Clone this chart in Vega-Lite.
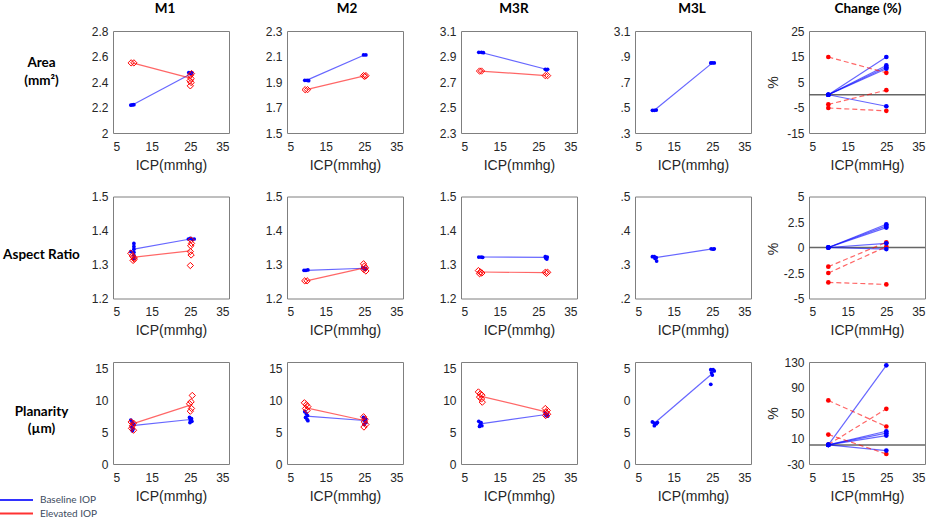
{
"$schema":"https://vega.github.io/schema/vega-lite/v6.json",
"autosize":{"type":"pad"},
"padding":{"left":2,"top":1,"right":2,"bottom":2},
"background":"white",
"data":{"values":[
{"p":"A1","g":"Baseline IOP","k":"p","x":9.6,"v":2.219},{"p":"A1","g":"Baseline IOP","k":"p","x":10.0,"v":2.22},{"p":"A1","g":"Baseline IOP","k":"p","x":10.4,"v":2.222},
{"p":"A1","g":"Baseline IOP","k":"p","x":24.6,"v":2.474},{"p":"A1","g":"Baseline IOP","k":"p","x":25.0,"v":2.47},{"p":"A1","g":"Baseline IOP","k":"p","x":25.4,"v":2.474},{"p":"A1","g":"Baseline IOP","k":"p","x":25.2,"v":2.465},
{"p":"A1","g":"Baseline IOP","k":"m","x":10,"v":2.22},{"p":"A1","g":"Baseline IOP","k":"m","x":25.3,"v":2.466},
{"p":"A1","g":"Elevated IOP","k":"p","x":9.7,"v":2.55},{"p":"A1","g":"Elevated IOP","k":"p","x":10.4,"v":2.55},
{"p":"A1","g":"Elevated IOP","k":"p","x":25.3,"v":2.466},{"p":"A1","g":"Elevated IOP","k":"p","x":25.0,"v":2.452},{"p":"A1","g":"Elevated IOP","k":"p","x":25.2,"v":2.427},{"p":"A1","g":"Elevated IOP","k":"p","x":24.9,"v":2.41},{"p":"A1","g":"Elevated IOP","k":"p","x":25.2,"v":2.396},{"p":"A1","g":"Elevated IOP","k":"p","x":25.0,"v":2.37},
{"p":"A1","g":"Elevated IOP","k":"m","x":10,"v":2.55},{"p":"A1","g":"Elevated IOP","k":"m","x":25,"v":2.43},

{"p":"A2","g":"Baseline IOP","k":"p","x":9.6,"v":1.913},{"p":"A2","g":"Baseline IOP","k":"p","x":10.2,"v":1.913},{"p":"A2","g":"Baseline IOP","k":"p","x":10.6,"v":1.91},
{"p":"A2","g":"Baseline IOP","k":"p","x":24.8,"v":2.112},{"p":"A2","g":"Baseline IOP","k":"p","x":25.4,"v":2.112},
{"p":"A2","g":"Baseline IOP","k":"m","x":10,"v":1.913},{"p":"A2","g":"Baseline IOP","k":"m","x":25,"v":2.112},
{"p":"A2","g":"Elevated IOP","k":"p","x":9.7,"v":1.84},{"p":"A2","g":"Elevated IOP","k":"p","x":10.3,"v":1.84},
{"p":"A2","g":"Elevated IOP","k":"p","x":24.8,"v":1.95},{"p":"A2","g":"Elevated IOP","k":"p","x":25.4,"v":1.95},{"p":"A2","g":"Elevated IOP","k":"p","x":25.1,"v":1.944},
{"p":"A2","g":"Elevated IOP","k":"m","x":10,"v":1.84},{"p":"A2","g":"Elevated IOP","k":"m","x":25,"v":1.948},

{"p":"A3","g":"Baseline IOP","k":"p","x":9.6,"v":2.933},{"p":"A3","g":"Baseline IOP","k":"p","x":10.3,"v":2.933},{"p":"A3","g":"Baseline IOP","k":"p","x":10.8,"v":2.93},
{"p":"A3","g":"Baseline IOP","k":"p","x":26.8,"v":2.8},{"p":"A3","g":"Baseline IOP","k":"p","x":27.4,"v":2.8},{"p":"A3","g":"Baseline IOP","k":"p","x":27.1,"v":2.795},
{"p":"A3","g":"Baseline IOP","k":"m","x":10,"v":2.933},{"p":"A3","g":"Baseline IOP","k":"m","x":27,"v":2.8},
{"p":"A3","g":"Elevated IOP","k":"p","x":9.8,"v":2.786},{"p":"A3","g":"Elevated IOP","k":"p","x":10.3,"v":2.786},
{"p":"A3","g":"Elevated IOP","k":"p","x":26.8,"v":2.75},{"p":"A3","g":"Elevated IOP","k":"p","x":27.4,"v":2.75},
{"p":"A3","g":"Elevated IOP","k":"m","x":10,"v":2.786},{"p":"A3","g":"Elevated IOP","k":"m","x":27,"v":2.75},

{"p":"A4","g":"Baseline IOP","k":"p","x":9.5,"v":2.478},{"p":"A4","g":"Baseline IOP","k":"p","x":10.0,"v":2.478},{"p":"A4","g":"Baseline IOP","k":"p","x":10.5,"v":2.48},
{"p":"A4","g":"Baseline IOP","k":"p","x":24.6,"v":2.85},{"p":"A4","g":"Baseline IOP","k":"p","x":25.0,"v":2.85},{"p":"A4","g":"Baseline IOP","k":"p","x":25.5,"v":2.85},
{"p":"A4","g":"Baseline IOP","k":"m","x":10,"v":2.478},{"p":"A4","g":"Baseline IOP","k":"m","x":25,"v":2.85},

{"p":"AC","k":"z","x":5,"v":0},{"p":"AC","k":"z","x":35,"v":0},
{"p":"AC","k":"c","g":"Baseline IOP","id":"b1","x":10,"v":0},{"p":"AC","k":"c","g":"Baseline IOP","id":"b1","x":25,"v":14.8},
{"p":"AC","k":"c","g":"Baseline IOP","id":"b2","x":10,"v":0},{"p":"AC","k":"c","g":"Baseline IOP","id":"b2","x":25,"v":11.5},
{"p":"AC","k":"c","g":"Baseline IOP","id":"b3","x":10,"v":0},{"p":"AC","k":"c","g":"Baseline IOP","id":"b3","x":25,"v":10.8},
{"p":"AC","k":"c","g":"Baseline IOP","id":"b4","x":10,"v":0},{"p":"AC","k":"c","g":"Baseline IOP","id":"b4","x":25,"v":10.2},
{"p":"AC","k":"c","g":"Baseline IOP","id":"b5","x":10,"v":0},{"p":"AC","k":"c","g":"Baseline IOP","id":"b5","x":25,"v":-4.5},
{"p":"AC","k":"c","g":"Elevated IOP","id":"e1","x":10,"v":14.8},{"p":"AC","k":"c","g":"Elevated IOP","id":"e1","x":25,"v":8.6},
{"p":"AC","k":"c","g":"Elevated IOP","id":"e2","x":10,"v":-3.8},{"p":"AC","k":"c","g":"Elevated IOP","id":"e2","x":25,"v":1.8},
{"p":"AC","k":"c","g":"Elevated IOP","id":"e3","x":10,"v":-5.2},{"p":"AC","k":"c","g":"Elevated IOP","id":"e3","x":25,"v":-6.3},

{"p":"R1","g":"Baseline IOP","k":"p","x":9.6,"v":1.338},{"p":"R1","g":"Baseline IOP","k":"p","x":10.4,"v":1.362},{"p":"R1","g":"Baseline IOP","k":"p","x":10.4,"v":1.353},{"p":"R1","g":"Baseline IOP","k":"p","x":10.4,"v":1.345},{"p":"R1","g":"Baseline IOP","k":"p","x":10.4,"v":1.336},{"p":"R1","g":"Baseline IOP","k":"p","x":10.4,"v":1.327},{"p":"R1","g":"Baseline IOP","k":"p","x":10.4,"v":1.318},
{"p":"R1","g":"Baseline IOP","k":"p","x":24.5,"v":1.375},{"p":"R1","g":"Baseline IOP","k":"p","x":25.0,"v":1.377},{"p":"R1","g":"Baseline IOP","k":"p","x":25.5,"v":1.374},{"p":"R1","g":"Baseline IOP","k":"p","x":26.0,"v":1.375},
{"p":"R1","g":"Baseline IOP","k":"m","x":10.4,"v":1.345},{"p":"R1","g":"Baseline IOP","k":"m","x":25,"v":1.375},
{"p":"R1","g":"Elevated IOP","k":"p","x":9.6,"v":1.333},{"p":"R1","g":"Elevated IOP","k":"p","x":10.0,"v":1.325},{"p":"R1","g":"Elevated IOP","k":"p","x":10.4,"v":1.32},{"p":"R1","g":"Elevated IOP","k":"p","x":10.2,"v":1.312},{"p":"R1","g":"Elevated IOP","k":"p","x":10.5,"v":1.316},
{"p":"R1","g":"Elevated IOP","k":"p","x":25.2,"v":1.372},{"p":"R1","g":"Elevated IOP","k":"p","x":25.3,"v":1.362},{"p":"R1","g":"Elevated IOP","k":"p","x":25.1,"v":1.355},{"p":"R1","g":"Elevated IOP","k":"p","x":25.0,"v":1.338},{"p":"R1","g":"Elevated IOP","k":"p","x":25.2,"v":1.328},{"p":"R1","g":"Elevated IOP","k":"p","x":25.0,"v":1.297},
{"p":"R1","g":"Elevated IOP","k":"m","x":10,"v":1.321},{"p":"R1","g":"Elevated IOP","k":"m","x":25,"v":1.34},

{"p":"R2","g":"Baseline IOP","k":"p","x":9.4,"v":1.283},{"p":"R2","g":"Baseline IOP","k":"p","x":9.9,"v":1.283},{"p":"R2","g":"Baseline IOP","k":"p","x":10.4,"v":1.284},
{"p":"R2","g":"Baseline IOP","k":"p","x":24.6,"v":1.29},{"p":"R2","g":"Baseline IOP","k":"p","x":25.0,"v":1.289},{"p":"R2","g":"Baseline IOP","k":"p","x":25.4,"v":1.288},{"p":"R2","g":"Baseline IOP","k":"p","x":25.2,"v":1.286},
{"p":"R2","g":"Baseline IOP","k":"m","x":10,"v":1.283},{"p":"R2","g":"Baseline IOP","k":"m","x":25,"v":1.289},
{"p":"R2","g":"Elevated IOP","k":"p","x":9.6,"v":1.252},{"p":"R2","g":"Elevated IOP","k":"p","x":10.2,"v":1.252},
{"p":"R2","g":"Elevated IOP","k":"p","x":24.8,"v":1.302},{"p":"R2","g":"Elevated IOP","k":"p","x":25.0,"v":1.295},{"p":"R2","g":"Elevated IOP","k":"p","x":25.3,"v":1.29},{"p":"R2","g":"Elevated IOP","k":"p","x":24.9,"v":1.285},{"p":"R2","g":"Elevated IOP","k":"p","x":25.4,"v":1.281},
{"p":"R2","g":"Elevated IOP","k":"m","x":10,"v":1.252},{"p":"R2","g":"Elevated IOP","k":"m","x":25,"v":1.29},

{"p":"R3","g":"Baseline IOP","k":"p","x":9.6,"v":1.322},{"p":"R3","g":"Baseline IOP","k":"p","x":10.2,"v":1.322},{"p":"R3","g":"Baseline IOP","k":"p","x":10.6,"v":1.321},
{"p":"R3","g":"Baseline IOP","k":"p","x":26.8,"v":1.323},{"p":"R3","g":"Baseline IOP","k":"p","x":27.3,"v":1.322},{"p":"R3","g":"Baseline IOP","k":"p","x":27.2,"v":1.316},{"p":"R3","g":"Baseline IOP","k":"p","x":26.9,"v":1.319},
{"p":"R3","g":"Baseline IOP","k":"m","x":10,"v":1.322},{"p":"R3","g":"Baseline IOP","k":"m","x":27,"v":1.321},
{"p":"R3","g":"Elevated IOP","k":"p","x":9.5,"v":1.282},{"p":"R3","g":"Elevated IOP","k":"p","x":10.0,"v":1.278},{"p":"R3","g":"Elevated IOP","k":"p","x":10.4,"v":1.275},{"p":"R3","g":"Elevated IOP","k":"p","x":9.8,"v":1.273},
{"p":"R3","g":"Elevated IOP","k":"p","x":26.8,"v":1.277},{"p":"R3","g":"Elevated IOP","k":"p","x":27.4,"v":1.277},{"p":"R3","g":"Elevated IOP","k":"p","x":27.1,"v":1.274},
{"p":"R3","g":"Elevated IOP","k":"m","x":10,"v":1.278},{"p":"R3","g":"Elevated IOP","k":"m","x":27,"v":1.276},

{"p":"R4","g":"Baseline IOP","k":"p","x":9.5,"v":1.323},{"p":"R4","g":"Baseline IOP","k":"p","x":10.0,"v":1.323},{"p":"R4","g":"Baseline IOP","k":"p","x":10.5,"v":1.32},{"p":"R4","g":"Baseline IOP","k":"p","x":10.6,"v":1.31},{"p":"R4","g":"Baseline IOP","k":"p","x":10.2,"v":1.318},
{"p":"R4","g":"Baseline IOP","k":"p","x":24.7,"v":1.346},{"p":"R4","g":"Baseline IOP","k":"p","x":25.2,"v":1.345},{"p":"R4","g":"Baseline IOP","k":"p","x":25.5,"v":1.346},
{"p":"R4","g":"Baseline IOP","k":"m","x":10.3,"v":1.32},{"p":"R4","g":"Baseline IOP","k":"m","x":25,"v":1.346},

{"p":"RC","k":"z","x":5,"v":0},{"p":"RC","k":"z","x":35,"v":0},
{"p":"RC","k":"c","g":"Baseline IOP","id":"b1","x":10,"v":0},{"p":"RC","k":"c","g":"Baseline IOP","id":"b1","x":25,"v":2.28},
{"p":"RC","k":"c","g":"Baseline IOP","id":"b2","x":10,"v":0},{"p":"RC","k":"c","g":"Baseline IOP","id":"b2","x":25,"v":2.12},
{"p":"RC","k":"c","g":"Baseline IOP","id":"b3","x":10,"v":0},{"p":"RC","k":"c","g":"Baseline IOP","id":"b3","x":25,"v":1.95},
{"p":"RC","k":"c","g":"Baseline IOP","id":"b4","x":10,"v":0},{"p":"RC","k":"c","g":"Baseline IOP","id":"b4","x":25,"v":0.41},
{"p":"RC","k":"c","g":"Baseline IOP","id":"b5","x":10,"v":0},{"p":"RC","k":"c","g":"Baseline IOP","id":"b5","x":25,"v":-0.15},
{"p":"RC","k":"c","g":"Elevated IOP","id":"e1","x":10,"v":-1.88},{"p":"RC","k":"c","g":"Elevated IOP","id":"e1","x":25,"v":0.51},
{"p":"RC","k":"c","g":"Elevated IOP","id":"e2","x":10,"v":-2.5},{"p":"RC","k":"c","g":"Elevated IOP","id":"e2","x":25,"v":0.08},
{"p":"RC","k":"c","g":"Elevated IOP","id":"e3","x":10,"v":-3.42},{"p":"RC","k":"c","g":"Elevated IOP","id":"e3","x":25,"v":-3.62},

{"p":"P1","g":"Baseline IOP","k":"p","x":9.6,"v":6.9},{"p":"P1","g":"Baseline IOP","k":"p","x":10.0,"v":6.5},{"p":"P1","g":"Baseline IOP","k":"p","x":10.4,"v":6.2},{"p":"P1","g":"Baseline IOP","k":"p","x":9.8,"v":5.8},{"p":"P1","g":"Baseline IOP","k":"p","x":10.2,"v":5.5},{"p":"P1","g":"Baseline IOP","k":"p","x":10.0,"v":5.2},
{"p":"P1","g":"Baseline IOP","k":"p","x":24.8,"v":7.3},{"p":"P1","g":"Baseline IOP","k":"p","x":25.3,"v":7.1},{"p":"P1","g":"Baseline IOP","k":"p","x":25.0,"v":6.9},{"p":"P1","g":"Baseline IOP","k":"p","x":25.4,"v":6.7},{"p":"P1","g":"Baseline IOP","k":"p","x":24.9,"v":6.5},
{"p":"P1","g":"Baseline IOP","k":"m","x":10,"v":6.03},{"p":"P1","g":"Baseline IOP","k":"m","x":25,"v":6.98},
{"p":"P1","g":"Elevated IOP","k":"p","x":9.7,"v":6.6},{"p":"P1","g":"Elevated IOP","k":"p","x":10.3,"v":6.4},{"p":"P1","g":"Elevated IOP","k":"p","x":10.0,"v":6.0},{"p":"P1","g":"Elevated IOP","k":"p","x":9.8,"v":5.6},{"p":"P1","g":"Elevated IOP","k":"p","x":10.3,"v":5.3},
{"p":"P1","g":"Elevated IOP","k":"p","x":25.5,"v":10.75},{"p":"P1","g":"Elevated IOP","k":"p","x":25.2,"v":9.76},{"p":"P1","g":"Elevated IOP","k":"p","x":24.8,"v":9.44},{"p":"P1","g":"Elevated IOP","k":"p","x":25.3,"v":8.71},{"p":"P1","g":"Elevated IOP","k":"p","x":25.0,"v":8.29},
{"p":"P1","g":"Elevated IOP","k":"m","x":10,"v":6.3},{"p":"P1","g":"Elevated IOP","k":"m","x":25,"v":9.23},

{"p":"P2","g":"Baseline IOP","k":"p","x":9.6,"v":8.2},{"p":"P2","g":"Baseline IOP","k":"p","x":10.0,"v":7.9},{"p":"P2","g":"Baseline IOP","k":"p","x":10.3,"v":7.6},{"p":"P2","g":"Baseline IOP","k":"p","x":9.8,"v":7.3},{"p":"P2","g":"Baseline IOP","k":"p","x":10.2,"v":7.0},{"p":"P2","g":"Baseline IOP","k":"p","x":10.4,"v":6.8},
{"p":"P2","g":"Baseline IOP","k":"p","x":24.8,"v":7.3},{"p":"P2","g":"Baseline IOP","k":"p","x":25.3,"v":7.0},{"p":"P2","g":"Baseline IOP","k":"p","x":25.0,"v":6.8},{"p":"P2","g":"Baseline IOP","k":"p","x":25.4,"v":6.5},{"p":"P2","g":"Baseline IOP","k":"p","x":24.9,"v":6.2},
{"p":"P2","g":"Baseline IOP","k":"m","x":10,"v":7.5},{"p":"P2","g":"Baseline IOP","k":"m","x":25,"v":6.82},
{"p":"P2","g":"Elevated IOP","k":"p","x":9.5,"v":9.6},{"p":"P2","g":"Elevated IOP","k":"p","x":10.0,"v":9.3},{"p":"P2","g":"Elevated IOP","k":"p","x":10.4,"v":9.0},{"p":"P2","g":"Elevated IOP","k":"p","x":9.8,"v":8.7},{"p":"P2","g":"Elevated IOP","k":"p","x":10.2,"v":8.4},
{"p":"P2","g":"Elevated IOP","k":"p","x":24.8,"v":7.4},{"p":"P2","g":"Elevated IOP","k":"p","x":25.2,"v":7.0},{"p":"P2","g":"Elevated IOP","k":"p","x":25.0,"v":6.6},{"p":"P2","g":"Elevated IOP","k":"p","x":25.4,"v":6.2},{"p":"P2","g":"Elevated IOP","k":"p","x":24.9,"v":5.8},
{"p":"P2","g":"Elevated IOP","k":"m","x":10,"v":8.81},{"p":"P2","g":"Elevated IOP","k":"m","x":25,"v":6.82},

{"p":"P3","g":"Baseline IOP","k":"p","x":9.6,"v":6.7},{"p":"P3","g":"Baseline IOP","k":"p","x":10.2,"v":6.5},{"p":"P3","g":"Baseline IOP","k":"p","x":10.0,"v":6.2},{"p":"P3","g":"Baseline IOP","k":"p","x":10.4,"v":6.0},{"p":"P3","g":"Baseline IOP","k":"p","x":9.8,"v":5.9},
{"p":"P3","g":"Baseline IOP","k":"p","x":26.8,"v":8.0},{"p":"P3","g":"Baseline IOP","k":"p","x":27.3,"v":7.8},{"p":"P3","g":"Baseline IOP","k":"p","x":27.0,"v":7.6},{"p":"P3","g":"Baseline IOP","k":"p","x":27.4,"v":7.5},
{"p":"P3","g":"Baseline IOP","k":"m","x":10,"v":6.3},{"p":"P3","g":"Baseline IOP","k":"m","x":27,"v":7.76},
{"p":"P3","g":"Elevated IOP","k":"p","x":9.5,"v":11.3},{"p":"P3","g":"Elevated IOP","k":"p","x":10.0,"v":11.0},{"p":"P3","g":"Elevated IOP","k":"p","x":10.4,"v":10.8},{"p":"P3","g":"Elevated IOP","k":"p","x":9.8,"v":10.5},{"p":"P3","g":"Elevated IOP","k":"p","x":10.3,"v":10.2},{"p":"P3","g":"Elevated IOP","k":"p","x":10.5,"v":9.7},
{"p":"P3","g":"Elevated IOP","k":"p","x":26.8,"v":8.7},{"p":"P3","g":"Elevated IOP","k":"p","x":27.3,"v":8.4},{"p":"P3","g":"Elevated IOP","k":"p","x":27.0,"v":8.1},{"p":"P3","g":"Elevated IOP","k":"p","x":27.4,"v":7.8},{"p":"P3","g":"Elevated IOP","k":"p","x":26.9,"v":7.6},
{"p":"P3","g":"Elevated IOP","k":"m","x":10,"v":10.65},{"p":"P3","g":"Elevated IOP","k":"m","x":27,"v":8.18},

{"p":"P4","g":"Baseline IOP","k":"p","x":9.5,"v":6.6},{"p":"P4","g":"Baseline IOP","k":"p","x":10.0,"v":6.4},{"p":"P4","g":"Baseline IOP","k":"p","x":10.5,"v":6.3},{"p":"P4","g":"Baseline IOP","k":"p","x":10.0,"v":6.0},{"p":"P4","g":"Baseline IOP","k":"p","x":10.8,"v":6.5},
{"p":"P4","g":"Baseline IOP","k":"p","x":24.6,"v":14.8},{"p":"P4","g":"Baseline IOP","k":"p","x":25.2,"v":14.8},{"p":"P4","g":"Baseline IOP","k":"p","x":25.5,"v":14.6},{"p":"P4","g":"Baseline IOP","k":"p","x":24.8,"v":14.3},{"p":"P4","g":"Baseline IOP","k":"p","x":25.0,"v":13.95},{"p":"P4","g":"Baseline IOP","k":"p","x":24.6,"v":12.5},
{"p":"P4","g":"Baseline IOP","k":"m","x":10,"v":6.4},{"p":"P4","g":"Baseline IOP","k":"m","x":25,"v":14.2},

{"p":"PC","k":"z","x":5,"v":0},{"p":"PC","k":"z","x":35,"v":0},
{"p":"PC","k":"c","g":"Baseline IOP","id":"b1","x":10,"v":0},{"p":"PC","k":"c","g":"Baseline IOP","id":"b1","x":25,"v":124.8},
{"p":"PC","k":"c","g":"Baseline IOP","id":"b2","x":10,"v":0},{"p":"PC","k":"c","g":"Baseline IOP","id":"b2","x":25,"v":21.4},
{"p":"PC","k":"c","g":"Baseline IOP","id":"b3","x":10,"v":0},{"p":"PC","k":"c","g":"Baseline IOP","id":"b3","x":25,"v":18.3},
{"p":"PC","k":"c","g":"Baseline IOP","id":"b4","x":10,"v":0},{"p":"PC","k":"c","g":"Baseline IOP","id":"b4","x":25,"v":14.6},
{"p":"PC","k":"c","g":"Baseline IOP","id":"b5","x":10,"v":0},{"p":"PC","k":"c","g":"Baseline IOP","id":"b5","x":25,"v":-9.0},
{"p":"PC","k":"c","g":"Elevated IOP","id":"e1","x":10,"v":69.7},{"p":"PC","k":"c","g":"Elevated IOP","id":"e1","x":25,"v":28.8},
{"p":"PC","k":"c","g":"Elevated IOP","id":"e2","x":10,"v":16.2},{"p":"PC","k":"c","g":"Elevated IOP","id":"e2","x":25,"v":-14.3},
{"p":"PC","k":"c","g":"Elevated IOP","id":"e3","x":10,"v":0.5},{"p":"PC","k":"c","g":"Elevated IOP","id":"e3","x":25,"v":56.5}
]},
"columns":5,
"bounds":"flush",
"align":"all",
"spacing":{"row":63.5,"column":58},
"concat":[
{"width":116,"height":102,"title":{"text":"M1","dx":-6},"transform":[{"filter":"datum.p=='A1'"}],
 "encoding":{"x":{"field":"x","type":"quantitative","scale":{"domain":[5,35],"nice":false},"axis":{"values":[5,15,25,35],"title":"ICP(mmhg)"}},
  "y":{"field":"v","type":"quantitative","scale":{"domain":[2,2.8],"nice":false,"zero":false},"axis":{"values":[2,2.2,2.4,2.6,2.8],"labelExpr":"''+datum.value","title":["Area","(mm²)"],"titleAngle":0,"titleAlign":"center","titleBaseline":"alphabetic","titleX":-72,"titleY":35.7,"titleFont":"Lato","titleFontWeight":"bold","titleFontSize":13.5,"titleLineHeight":17.5,"titleColor":"#000000"}}},
 "layer":[
  {"transform":[{"filter":"datum.k=='m'"}],"mark":{"type":"line","strokeWidth":1.2,"opacity":0.6},"encoding":{"color":{"field":"g","type":"nominal","scale":{"domain":["Baseline IOP","Elevated IOP"],"range":["#0000ff","#ff0000"]},"legend":{"title":null,"orient":"none","legendX":-103,"legendY":462.5,"symbolType":"M-3,0H3","symbolSize":121,"symbolStrokeWidth":2,"symbolOpacity":0.8,"labelOffset":17,"labelFont":"Lato","labelFontSize":10,"labelColor":"#3b4a5e","rowPadding":1.5,"padding":0}}}},
  {"transform":[{"filter":"datum.k=='p' && datum.g=='Baseline IOP'"}],"mark":{"type":"point","shape":"circle","filled":true,"color":"#0000ff","size":14,"opacity":1}},
  {"transform":[{"filter":"datum.k=='p' && datum.g=='Elevated IOP'"}],"mark":{"type":"point","shape":"diamond","filled":false,"color":"#ff0000","size":40,"strokeWidth":1,"opacity":1}}
 ]},
{"width":116,"height":102,"title":{"text":"M2","dx":2},"transform":[{"filter":"datum.p=='A2'"}],
 "encoding":{"x":{"field":"x","type":"quantitative","scale":{"domain":[5,35],"nice":false},"axis":{"values":[5,15,25,35],"title":"ICP(mmhg)"}},
  "y":{"field":"v","type":"quantitative","scale":{"domain":[1.5,2.3],"nice":false,"zero":false},"axis":{"values":[1.5,1.7,1.9,2.1,2.3],"labelExpr":"''+datum.value","title":null}}},
 "layer":[
  {"transform":[{"filter":"datum.k=='m'"}],"mark":{"type":"line","strokeWidth":1.2,"opacity":0.6},"encoding":{"color":{"field":"g","type":"nominal","legend":null}}},
  {"transform":[{"filter":"datum.k=='p' && datum.g=='Baseline IOP'"}],"mark":{"type":"point","shape":"circle","filled":true,"color":"#0000ff","size":14,"opacity":1}},
  {"transform":[{"filter":"datum.k=='p' && datum.g=='Elevated IOP'"}],"mark":{"type":"point","shape":"diamond","filled":false,"color":"#ff0000","size":40,"strokeWidth":1,"opacity":1}}
 ]},
{"width":116,"height":102,"title":{"text":"M3R","dx":-5},"transform":[{"filter":"datum.p=='A3'"}],
 "encoding":{"x":{"field":"x","type":"quantitative","scale":{"domain":[5,35],"nice":false},"axis":{"values":[5,15,25,35],"title":"ICP(mmhg)"}},
  "y":{"field":"v","type":"quantitative","scale":{"domain":[2.3,3.1],"nice":false,"zero":false},"axis":{"values":[2.3,2.5,2.7,2.9,3.1],"labelExpr":"''+datum.value","title":null}}},
 "layer":[
  {"transform":[{"filter":"datum.k=='m'"}],"mark":{"type":"line","strokeWidth":1.2,"opacity":0.6},"encoding":{"color":{"field":"g","type":"nominal","legend":null}}},
  {"transform":[{"filter":"datum.k=='p' && datum.g=='Baseline IOP'"}],"mark":{"type":"point","shape":"circle","filled":true,"color":"#0000ff","size":14,"opacity":1}},
  {"transform":[{"filter":"datum.k=='p' && datum.g=='Elevated IOP'"}],"mark":{"type":"point","shape":"diamond","filled":false,"color":"#ff0000","size":40,"strokeWidth":1,"opacity":1}}
 ]},
{"width":116,"height":102,"title":{"text":"M3L","dx":-1},"transform":[{"filter":"datum.p=='A4'"}],
 "encoding":{"x":{"field":"x","type":"quantitative","scale":{"domain":[5,35],"nice":false},"axis":{"values":[5,15,25,35],"title":"ICP(mmhg)"}},
  "y":{"field":"v","type":"quantitative","scale":{"domain":[2.3,3.1],"nice":false,"zero":false},"axis":{"values":[2.3,2.5,2.7,2.9,3.1],"labelExpr":"datum.value > 3 ? ''+datum.value : substring(''+datum.value, 1)","title":null}}},
 "layer":[
  {"transform":[{"filter":"datum.k=='m'"}],"mark":{"type":"line","strokeWidth":1.2,"opacity":0.6},"encoding":{"color":{"field":"g","type":"nominal","legend":null}}},
  {"transform":[{"filter":"datum.k=='p' && datum.g=='Baseline IOP'"}],"mark":{"type":"point","shape":"circle","filled":true,"color":"#0000ff","size":14,"opacity":1}}
 ]},
{"width":116,"height":102,"title":{"text":"Change (%)","dx":1},"transform":[{"filter":"datum.p=='AC'"}],
 "encoding":{"x":{"field":"x","type":"quantitative","scale":{"domain":[5,35],"nice":false},"axis":{"values":[5,15,25,35],"title":"ICP(mmHg)"}},
  "y":{"field":"v","type":"quantitative","scale":{"domain":[-15,25],"nice":false,"zero":false},"axis":{"values":[-15,-5,5,15,25],"labelExpr":"''+datum.value","title":"%","titleAngle":-90,"titleX":-36,"titleY":51,"titleAlign":"center","titleBaseline":"middle"}}},
 "layer":[
  {"transform":[{"filter":"datum.k=='z'"}],"mark":{"type":"line","color":"#666666","strokeWidth":1.5},"encoding":{}},
  {"transform":[{"filter":"datum.k=='c' && datum.g=='Baseline IOP'"}],"mark":{"type":"line","color":"#0000ff","strokeWidth":1.2,"opacity":0.6},"encoding":{"detail":{"field":"id","type":"nominal"}}},
  {"transform":[{"filter":"datum.k=='c' && datum.g=='Elevated IOP'"}],"mark":{"type":"line","color":"#ff0000","strokeWidth":1.2,"opacity":0.6,"strokeDash":[5,3]},"encoding":{"detail":{"field":"id","type":"nominal"}}},
  {"transform":[{"filter":"datum.k=='c' && datum.g=='Elevated IOP'"}],"mark":{"type":"point","shape":"circle","filled":true,"color":"#ff0000","size":22,"opacity":1}},
  {"transform":[{"filter":"datum.k=='c' && datum.g=='Baseline IOP'"}],"mark":{"type":"point","shape":"circle","filled":true,"color":"#0000ff","size":22,"opacity":1}}
 ]},

{"width":116,"height":102,"transform":[{"filter":"datum.p=='R1'"}],
 "encoding":{"x":{"field":"x","type":"quantitative","scale":{"domain":[5,35],"nice":false},"axis":{"values":[5,15,25,35],"title":"ICP(mmhg)"}},
  "y":{"field":"v","type":"quantitative","scale":{"domain":[1.2,1.5],"nice":false,"zero":false},"axis":{"values":[1.2,1.3,1.4,1.5],"labelExpr":"''+datum.value","title":"Aspect Ratio","titleAngle":0,"titleAlign":"center","titleBaseline":"alphabetic","titleX":-72,"titleY":62.3,"titleFont":"Lato","titleFontWeight":"bold","titleFontSize":13.5,"titleColor":"#000000"}}},
 "layer":[
  {"transform":[{"filter":"datum.k=='m'"}],"mark":{"type":"line","strokeWidth":1.2,"opacity":0.6},"encoding":{"color":{"field":"g","type":"nominal","legend":null}}},
  {"transform":[{"filter":"datum.k=='p' && datum.g=='Baseline IOP'"}],"mark":{"type":"point","shape":"circle","filled":true,"color":"#0000ff","size":14,"opacity":1}},
  {"transform":[{"filter":"datum.k=='p' && datum.g=='Elevated IOP'"}],"mark":{"type":"point","shape":"diamond","filled":false,"color":"#ff0000","size":40,"strokeWidth":1,"opacity":1}}
 ]},
{"width":116,"height":102,"transform":[{"filter":"datum.p=='R2'"}],
 "encoding":{"x":{"field":"x","type":"quantitative","scale":{"domain":[5,35],"nice":false},"axis":{"values":[5,15,25,35],"title":"ICP(mmhg)"}},
  "y":{"field":"v","type":"quantitative","scale":{"domain":[1.2,1.5],"nice":false,"zero":false},"axis":{"values":[1.2,1.3,1.4,1.5],"labelExpr":"''+datum.value","title":null}}},
 "layer":[
  {"transform":[{"filter":"datum.k=='m'"}],"mark":{"type":"line","strokeWidth":1.2,"opacity":0.6},"encoding":{"color":{"field":"g","type":"nominal","legend":null}}},
  {"transform":[{"filter":"datum.k=='p' && datum.g=='Baseline IOP'"}],"mark":{"type":"point","shape":"circle","filled":true,"color":"#0000ff","size":14,"opacity":1}},
  {"transform":[{"filter":"datum.k=='p' && datum.g=='Elevated IOP'"}],"mark":{"type":"point","shape":"diamond","filled":false,"color":"#ff0000","size":40,"strokeWidth":1,"opacity":1}}
 ]},
{"width":116,"height":102,"transform":[{"filter":"datum.p=='R3'"}],
 "encoding":{"x":{"field":"x","type":"quantitative","scale":{"domain":[5,35],"nice":false},"axis":{"values":[5,15,25,35],"title":"ICP(mmhg)"}},
  "y":{"field":"v","type":"quantitative","scale":{"domain":[1.2,1.5],"nice":false,"zero":false},"axis":{"values":[1.2,1.3,1.4,1.5],"labelExpr":"''+datum.value","title":null}}},
 "layer":[
  {"transform":[{"filter":"datum.k=='m'"}],"mark":{"type":"line","strokeWidth":1.2,"opacity":0.6},"encoding":{"color":{"field":"g","type":"nominal","legend":null}}},
  {"transform":[{"filter":"datum.k=='p' && datum.g=='Baseline IOP'"}],"mark":{"type":"point","shape":"circle","filled":true,"color":"#0000ff","size":14,"opacity":1}},
  {"transform":[{"filter":"datum.k=='p' && datum.g=='Elevated IOP'"}],"mark":{"type":"point","shape":"diamond","filled":false,"color":"#ff0000","size":40,"strokeWidth":1,"opacity":1}}
 ]},
{"width":116,"height":102,"transform":[{"filter":"datum.p=='R4'"}],
 "encoding":{"x":{"field":"x","type":"quantitative","scale":{"domain":[5,35],"nice":false},"axis":{"values":[5,15,25,35],"title":"ICP(mmhg)"}},
  "y":{"field":"v","type":"quantitative","scale":{"domain":[1.2,1.5],"nice":false,"zero":false},"axis":{"values":[1.2,1.3,1.4,1.5],"labelExpr":"substring(''+datum.value, 1)","title":null}}},
 "layer":[
  {"transform":[{"filter":"datum.k=='m'"}],"mark":{"type":"line","strokeWidth":1.2,"opacity":0.6},"encoding":{"color":{"field":"g","type":"nominal","legend":null}}},
  {"transform":[{"filter":"datum.k=='p' && datum.g=='Baseline IOP'"}],"mark":{"type":"point","shape":"circle","filled":true,"color":"#0000ff","size":14,"opacity":1}}
 ]},
{"width":116,"height":102,"transform":[{"filter":"datum.p=='RC'"}],
 "encoding":{"x":{"field":"x","type":"quantitative","scale":{"domain":[5,35],"nice":false},"axis":{"values":[5,15,25,35],"title":"ICP(mmHg)"}},
  "y":{"field":"v","type":"quantitative","scale":{"domain":[-5,5],"nice":false,"zero":false},"axis":{"values":[-5,-2.5,0,2.5,5],"labelExpr":"''+datum.value","title":"%","titleAngle":-90,"titleX":-36,"titleY":52,"titleAlign":"center","titleBaseline":"middle"}}},
 "layer":[
  {"transform":[{"filter":"datum.k=='z'"}],"mark":{"type":"line","color":"#666666","strokeWidth":1.5},"encoding":{}},
  {"transform":[{"filter":"datum.k=='c' && datum.g=='Baseline IOP'"}],"mark":{"type":"line","color":"#0000ff","strokeWidth":1.2,"opacity":0.6},"encoding":{"detail":{"field":"id","type":"nominal"}}},
  {"transform":[{"filter":"datum.k=='c' && datum.g=='Elevated IOP'"}],"mark":{"type":"line","color":"#ff0000","strokeWidth":1.2,"opacity":0.6,"strokeDash":[5,3]},"encoding":{"detail":{"field":"id","type":"nominal"}}},
  {"transform":[{"filter":"datum.k=='c' && datum.g=='Elevated IOP'"}],"mark":{"type":"point","shape":"circle","filled":true,"color":"#ff0000","size":22,"opacity":1}},
  {"transform":[{"filter":"datum.k=='c' && datum.g=='Baseline IOP'"}],"mark":{"type":"point","shape":"circle","filled":true,"color":"#0000ff","size":22,"opacity":1}}
 ]},

{"width":116,"height":102,"transform":[{"filter":"datum.p=='P1'"}],
 "encoding":{"x":{"field":"x","type":"quantitative","scale":{"domain":[5,35],"nice":false},"axis":{"values":[5,15,25,35],"title":"ICP(mmhg)"}},
  "y":{"field":"v","type":"quantitative","scale":{"domain":[0,16],"nice":false,"zero":false},"axis":{"values":[0,5,10,15],"labelExpr":"''+datum.value","title":["Planarity","(µm)"],"titleAngle":0,"titleAlign":"center","titleBaseline":"alphabetic","titleX":-72,"titleY":53.4,"titleFont":"Lato","titleFontWeight":"bold","titleFontSize":13.5,"titleLineHeight":17,"titleColor":"#000000"}}},
 "layer":[
  {"transform":[{"filter":"datum.k=='m'"}],"mark":{"type":"line","strokeWidth":1.2,"opacity":0.6},"encoding":{"color":{"field":"g","type":"nominal","legend":null}}},
  {"transform":[{"filter":"datum.k=='p' && datum.g=='Baseline IOP'"}],"mark":{"type":"point","shape":"circle","filled":true,"color":"#0000ff","size":14,"opacity":1}},
  {"transform":[{"filter":"datum.k=='p' && datum.g=='Elevated IOP'"}],"mark":{"type":"point","shape":"diamond","filled":false,"color":"#ff0000","size":40,"strokeWidth":1,"opacity":1}}
 ]},
{"width":116,"height":102,"transform":[{"filter":"datum.p=='P2'"}],
 "encoding":{"x":{"field":"x","type":"quantitative","scale":{"domain":[5,35],"nice":false},"axis":{"values":[5,15,25,35],"title":"ICP(mmhg)"}},
  "y":{"field":"v","type":"quantitative","scale":{"domain":[0,16],"nice":false,"zero":false},"axis":{"values":[0,5,10,15],"labelExpr":"''+datum.value","title":null}}},
 "layer":[
  {"transform":[{"filter":"datum.k=='m'"}],"mark":{"type":"line","strokeWidth":1.2,"opacity":0.6},"encoding":{"color":{"field":"g","type":"nominal","legend":null}}},
  {"transform":[{"filter":"datum.k=='p' && datum.g=='Baseline IOP'"}],"mark":{"type":"point","shape":"circle","filled":true,"color":"#0000ff","size":14,"opacity":1}},
  {"transform":[{"filter":"datum.k=='p' && datum.g=='Elevated IOP'"}],"mark":{"type":"point","shape":"diamond","filled":false,"color":"#ff0000","size":40,"strokeWidth":1,"opacity":1}}
 ]},
{"width":116,"height":102,"transform":[{"filter":"datum.p=='P3'"}],
 "encoding":{"x":{"field":"x","type":"quantitative","scale":{"domain":[5,35],"nice":false},"axis":{"values":[5,15,25,35],"title":"ICP(mmhg)"}},
  "y":{"field":"v","type":"quantitative","scale":{"domain":[0,16],"nice":false,"zero":false},"axis":{"values":[0,5,10,15],"labelExpr":"''+datum.value","title":null}}},
 "layer":[
  {"transform":[{"filter":"datum.k=='m'"}],"mark":{"type":"line","strokeWidth":1.2,"opacity":0.6},"encoding":{"color":{"field":"g","type":"nominal","legend":null}}},
  {"transform":[{"filter":"datum.k=='p' && datum.g=='Baseline IOP'"}],"mark":{"type":"point","shape":"circle","filled":true,"color":"#0000ff","size":14,"opacity":1}},
  {"transform":[{"filter":"datum.k=='p' && datum.g=='Elevated IOP'"}],"mark":{"type":"point","shape":"diamond","filled":false,"color":"#ff0000","size":40,"strokeWidth":1,"opacity":1}}
 ]},
{"width":116,"height":102,"transform":[{"filter":"datum.p=='P4'"}],
 "encoding":{"x":{"field":"x","type":"quantitative","scale":{"domain":[5,35],"nice":false},"axis":{"values":[5,15,25,35],"title":"ICP(mmhg)"}},
  "y":{"field":"v","type":"quantitative","scale":{"domain":[0,16],"nice":false,"zero":false},"axis":{"values":[0,5,10,15],"labelExpr":"datum.value >= 10 ? substring(''+datum.value, 1) : ''+datum.value","title":null}}},
 "layer":[
  {"transform":[{"filter":"datum.k=='m'"}],"mark":{"type":"line","strokeWidth":1.2,"opacity":0.6},"encoding":{"color":{"field":"g","type":"nominal","legend":null}}},
  {"transform":[{"filter":"datum.k=='p' && datum.g=='Baseline IOP'"}],"mark":{"type":"point","shape":"circle","filled":true,"color":"#0000ff","size":14,"opacity":1}}
 ]},
{"width":116,"height":102,"transform":[{"filter":"datum.p=='PC'"}],
 "encoding":{"x":{"field":"x","type":"quantitative","scale":{"domain":[5,35],"nice":false},"axis":{"values":[5,15,25,35],"title":"ICP(mmHg)"}},
  "y":{"field":"v","type":"quantitative","scale":{"domain":[-30,130],"nice":false,"zero":false},"axis":{"values":[-30,10,50,90,130],"labelExpr":"''+datum.value","title":"%","titleAngle":-90,"titleX":-36,"titleY":51,"titleAlign":"center","titleBaseline":"middle"}}},
 "layer":[
  {"transform":[{"filter":"datum.k=='z'"}],"mark":{"type":"line","color":"#666666","strokeWidth":1.5},"encoding":{}},
  {"transform":[{"filter":"datum.k=='c' && datum.g=='Baseline IOP'"}],"mark":{"type":"line","color":"#0000ff","strokeWidth":1.2,"opacity":0.6},"encoding":{"detail":{"field":"id","type":"nominal"}}},
  {"transform":[{"filter":"datum.k=='c' && datum.g=='Elevated IOP'"}],"mark":{"type":"line","color":"#ff0000","strokeWidth":1.2,"opacity":0.6,"strokeDash":[5,3]},"encoding":{"detail":{"field":"id","type":"nominal"}}},
  {"transform":[{"filter":"datum.k=='c' && datum.g=='Elevated IOP'"}],"mark":{"type":"point","shape":"circle","filled":true,"color":"#ff0000","size":22,"opacity":1}},
  {"transform":[{"filter":"datum.k=='c' && datum.g=='Baseline IOP'"}],"mark":{"type":"point","shape":"circle","filled":true,"color":"#0000ff","size":22,"opacity":1}}
 ]}
],
"config":{
 "view":{"stroke":"#7f7f7f","strokeWidth":1},
 "axis":{"domain":false,"ticks":false,"grid":false,"labelFont":"Liberation Sans","labelFontSize":12,"labelColor":"#262626","titleFont":"Liberation Sans","titleFontSize":14,"titleFontWeight":"normal","titleColor":"#262626"},
 "axisX":{"labelPadding":8,"titlePadding":6},
 "axisY":{"labelPadding":5},
 "title":{"frame":"group","anchor":"middle","baseline":"alphabetic","offset":10,"font":"Lato","fontSize":13.5,"fontWeight":"bold","color":"#000000"}
}
}
